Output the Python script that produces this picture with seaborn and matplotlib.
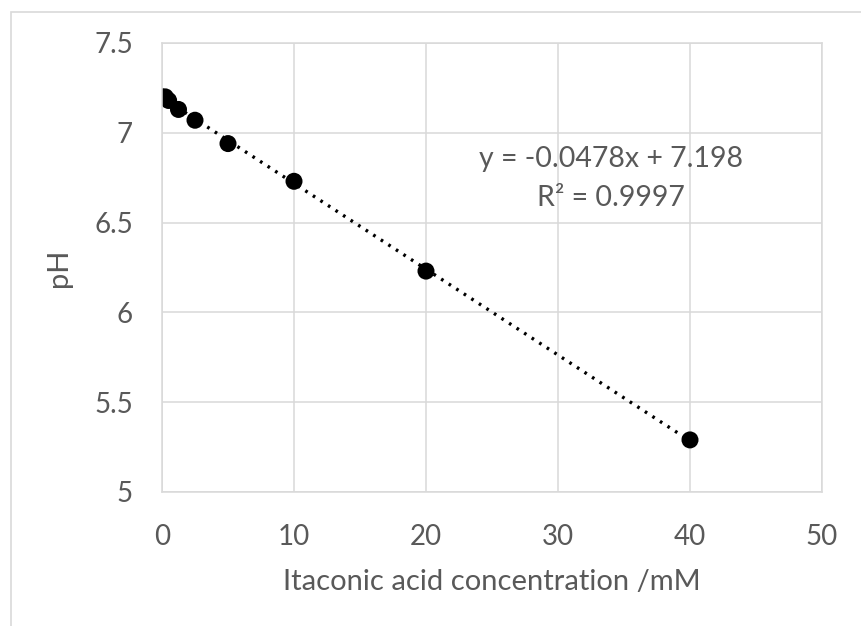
import numpy as np
import matplotlib
matplotlib.use("Agg")
import matplotlib.pyplot as plt
import seaborn as sns
from matplotlib.patches import Rectangle

# --- datos ---
conc_mM = [0, 0.25, 0.5, 1.25, 2.5, 5, 10, 20, 40]
ph_vals = [7.20, 7.20, 7.18, 7.13, 7.07, 6.94, 6.73, 6.23, 5.29]
x_ticks = [0, 10, 20, 30, 40, 50]
y_ticks = [5, 5.5, 6, 6.5, 7, 7.5]
y_tick_labels = ["5", "5.5", "6", "6.5", "7", "7.5"]
eq_text = "y = -0.0478x + 7.198"
r2_text = "R² = 0.9997"

GRAY_TXT = "#595959"
GRAY_GRID = "#d9d9d9"

sns.set_theme(style="whitegrid")
plt.rcParams.update({
    "font.family": ["Lato", "DejaVu Sans"],
    "axes.edgecolor": GRAY_GRID,
    "grid.color": GRAY_GRID,
    "grid.linewidth": 1.1,
    "text.color": GRAY_TXT,
    "xtick.color": GRAY_TXT,
    "ytick.color": GRAY_TXT,
    "axes.labelcolor": GRAY_TXT,
})

fig = plt.figure(figsize=(8.61, 6.26), dpi=100)
ax = fig.add_axes([162 / 861, 1 - 492 / 626, 660 / 861, 449 / 626])

sns.regplot(x=conc_mM, y=ph_vals, ax=ax, ci=None, truncate=True,
            scatter_kws={"s": 150, "color": "black", "edgecolor": "none", "alpha": 1},
            line_kws={"color": "black", "linestyle": (0, (0.8, 1.9)), "linewidth": 2.4})

ax.set_xlim(0, 50)
ax.set_ylim(5, 7.5)
ax.set_xticks(x_ticks)
ax.set_yticks(y_ticks)
ax.set_yticklabels(y_tick_labels)
ax.tick_params(axis="both", length=0, labelsize=20)
ax.tick_params(axis="x", pad=23)
ax.tick_params(axis="y", pad=21)
for sp in ax.spines.values():
    sp.set_color(GRAY_GRID)
    sp.set_linewidth(1.1)

ax.set_xlabel("Itaconic acid concentration /mM", fontsize=21, labelpad=14)
ax.set_ylabel("pH", fontsize=21, labelpad=16)

ax.text(34.0, 6.855, eq_text, ha="center", va="center", fontsize=20.5, color=GRAY_TXT)
ax.text(34.0, 6.638, r2_text, ha="center", va="center", fontsize=20.5, color=GRAY_TXT)

# borde del área del gráfico (estilo Excel)
fig.add_artist(Rectangle((11 / 861, -0.1), 1.2, 1.1 - 12 / 626, transform=fig.transFigure,
                         fill=False, edgecolor=GRAY_GRID, linewidth=1.2))

fig.savefig("out.png", dpi=100)
